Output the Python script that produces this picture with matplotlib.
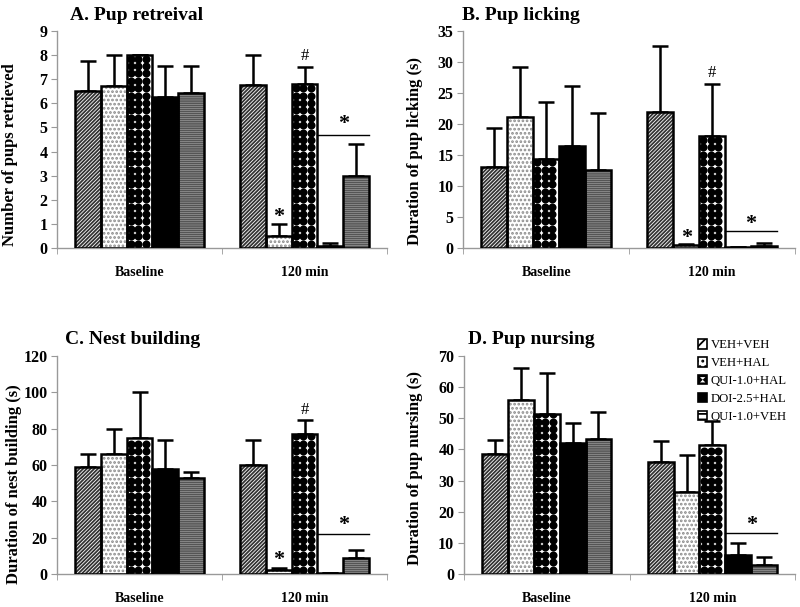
import numpy as np
import matplotlib.pyplot as plt
from matplotlib.patches import Patch

plt.rcParams["font.family"] = ["Liberation Serif", "DejaVu Serif"]
plt.rcParams["hatch.linewidth"] = 1.3

# --- DATA ---------------------------------------------------------------------
groups = ["Baseline", "120 min"]
treatments = ["VEH+VEH", "VEH+HAL", "QUI-1.0+HAL", "DOI-2.5+HAL", "QUI-1.0+VEH"]

# means per treatment: [baseline, 120 min]; err_top = mean + SEM
retrieval_mean = [[6.5, 6.75], [6.7, 0.5], [8.0, 6.8], [6.25, 0.1], [6.45, 3.0]]
retrieval_top = [[7.75, 8.0], [8.0, 1.0], [8.0, 7.5], [7.55, 0.2], [7.55, 4.3]]

licking_mean = [[13.0, 22.0], [21.1, 0.5], [14.4, 18.0], [16.4, 0.2], [12.6, 0.4]]
licking_top = [[19.3, 32.6], [29.2, 0.7], [23.6, 26.5], [26.1, 0.2], [21.7, 0.8]]

nest_mean = [[59, 60], [66, 2], [75, 77], [58, 0.5], [53, 9]]
nest_top = [[66, 74], [80, 3.5], [100, 85], [74, 0.5], [56, 13]]

nursing_mean = [[38.5, 36.0], [56.0, 26.3], [51.5, 41.3], [42.0, 6.0], [43.3, 3.0]]
nursing_top = [[43.0, 42.8], [66.0, 38.2], [64.5, 49.0], [48.5, 10.0], [52.0, 5.5]]

# --- STYLE --------------------------------------------------------------------
BAR_W = 0.156
fills = [
    dict(facecolor="white", hatch="/////////", hatchc="#333333"),
    dict(facecolor="white", hatch="....", hatchc="#8a8a8a"),
    dict(facecolor="white", hatch=None, hatchc=None),        # dotted grid drawn below
    dict(facecolor="black", hatch=None, hatchc=None),
    dict(facecolor="white", hatch="--------", hatchc="#555555"),
]
AXIS_GRAY = "#999999"


def dot_grid(ax, rect, step_px=7.4, size=5.8):
    # black dots in a square grid, clipped to the bar
    bb = ax.get_window_extent()
    x0, x1 = ax.get_xlim()
    y0, y1 = ax.get_ylim()
    dx = step_px * (x1 - x0) / bb.width
    dy = step_px * (y1 - y0) / bb.height
    bx, bw = rect.get_x(), rect.get_width()
    h = rect.get_height()
    xs = np.arange(bx + dx * 0.55, bx + bw, dx)
    ys = np.arange(dy * 0.6, h, dy)
    if len(xs) == 0 or len(ys) == 0:
        return
    gx, gy = np.meshgrid(xs, ys)
    sc = ax.scatter(gx.ravel(), gy.ravel(), s=size ** 2, c="black", marker="o",
                    linewidths=0, zorder=2.5)
    sc.set_clip_path(rect)


def panel(ax, means, tops, ymax, ystep):
    ax.set_xlim(-0.5, 1.5)
    ax.set_ylim(0, ymax)
    x = np.arange(len(groups))
    for i, (m, t) in enumerate(zip(means, tops)):
        pos = x + (i - 2) * BAR_W
        m = np.array(m, dtype=float)
        err = np.array(t, dtype=float) - m
        st = fills[i]
        if st["hatch"]:
            ax.bar(pos, m, BAR_W, color=st["facecolor"], edgecolor=st["hatchc"],
                   hatch=st["hatch"], linewidth=0, zorder=2)
        else:
            ax.bar(pos, m, BAR_W, color=st["facecolor"], linewidth=0, zorder=2)
        outline = ax.bar(pos, m, BAR_W, fill=False, edgecolor="black",
                         linewidth=1.8, zorder=3)
        if i == 2:
            for r in outline:
                dot_grid(ax, r)
        ax.errorbar(pos, m, yerr=[np.zeros_like(err), err], fmt="none",
                    ecolor="black", elinewidth=1.8, capsize=5.5, capthick=1.8,
                    zorder=1.5)
    for s in ["top", "right"]:
        ax.spines[s].set_visible(False)
    for s in ["left", "bottom"]:
        ax.spines[s].set_color(AXIS_GRAY)
        ax.spines[s].set_linewidth(1.0)
    ax.set_yticks(np.arange(0, ymax + ystep / 2, ystep))
    ax.tick_params(axis="y", direction="out", length=4, color=AXIS_GRAY,
                   labelsize=11.5, pad=3)
    for lab in ax.get_yticklabels():
        lab.set_fontweight("bold")
    ax.set_xticks(x)
    ax.set_xticklabels(groups, fontsize=10, fontweight="bold")
    ax.tick_params(axis="x", length=0, pad=13)
    ax.set_xticks([-0.5, 0.5, 1.5], minor=True)
    ax.tick_params(axis="x", which="minor", direction="out", length=4,
                   color=AXIS_GRAY)


def star_line(ax, y_line, y_star):
    left = 1 + (3 - 2) * BAR_W - BAR_W / 2
    right = 1 + (4 - 2) * BAR_W + BAR_W / 2
    ax.plot([left, right], [y_line, y_line], color="black", lw=1.0, zorder=4)
    ax.text((left + right) / 2, y_star, "*", ha="center", va="center",
            fontsize=16, fontweight="bold")


def mark(ax, i, y, s, size=16, weight="bold"):
    ax.text(1 + (i - 2) * BAR_W, y, s, ha="center", va="center",
            fontsize=size, fontweight=weight)


fig = plt.figure(figsize=(8, 6.07), dpi=100)
axA = fig.add_axes([0.0713, 0.5914, 0.4125, 0.3575])
axB = fig.add_axes([0.579, 0.5914, 0.415, 0.3575])
axC = fig.add_axes([0.0713, 0.0544, 0.4125, 0.3591])
axD = fig.add_axes([0.58, 0.0544, 0.414, 0.3591])

panel(axA, retrieval_mean, retrieval_top, 9, 1)
panel(axB, licking_mean, licking_top, 35, 5)
panel(axC, nest_mean, nest_top, 120, 20)
panel(axD, nursing_mean, nursing_top, 70, 10)

# annotations
mark(axA, 1, 1.3, "*")
mark(axA, 2, 7.95, "#", size=12, weight="normal")
star_line(axA, 4.7, 5.15)

mark(axB, 1, 1.6, "*")
mark(axB, 2, 28.3, "#", size=12, weight="normal")
star_line(axB, 2.7, 3.9)

mark(axC, 1, 7.5, "*")
mark(axC, 2, 90, "#", size=12, weight="normal")
star_line(axC, 22, 27)

star_line(axD, 13, 15.8)

# titles and y labels
fig.text(0.087, 0.975, "A. Pup retreival", fontsize=14, fontweight="bold", va="center")
fig.text(0.578, 0.975, "B. Pup licking", fontsize=14, fontweight="bold", va="center")
fig.text(0.081, 0.44, "C. Nest building", fontsize=14, fontweight="bold", va="center")
fig.text(0.585, 0.44, "D. Pup nursing", fontsize=14, fontweight="bold", va="center")

ylabs = [("Number of pups retrieved", 0.013, 1 - 155 / 607),
         ("Duration of pup licking (s)", 0.519, 1 - 151 / 607),
         ("Duration of nest building (s)", 0.017, 1 - 484 / 607),
         ("Duration of pup nursing (s)", 0.519, 1 - 468 / 607)]
for txt, xx, yy in ylabs:
    fig.text(xx, yy, txt, rotation=90, ha="center", va="center",
             fontsize=12, fontweight="bold")

# legend
handles = []
for i, name in enumerate(treatments):
    st = fills[i]
    if i == 2:
        h = Patch(facecolor="black", edgecolor="black", linewidth=1.2)
    elif st["hatch"]:
        h = Patch(facecolor=st["facecolor"], edgecolor="black",
                  hatch=st["hatch"][:3], linewidth=1.2)
    else:
        h = Patch(facecolor=st["facecolor"], edgecolor="black", linewidth=1.2)
    handles.append(h)
leg = axD.legend(handles, treatments, loc="upper right", bbox_to_anchor=(0.99, 1.1),
                 frameon=False, fontsize=9.2, handlelength=0.75, handleheight=0.75,
                 handletextpad=0.25, labelspacing=0.45, borderaxespad=0)

# white hourglass on the QUI-1.0+HAL swatch
sw = leg.get_patches()[2]
fig.canvas.draw()
bb = sw.get_window_extent()
cx, cy = (bb.x0 + bb.x1) / 2, (bb.y0 + bb.y1) / 2
hw = bb.width * 0.28
inv = fig.transFigure.inverted()
pts = inv.transform([(cx - hw, cy + hw), (cx + hw, cy + hw),
                     (cx - hw, cy - hw), (cx + hw, cy - hw)])
fig.patches.append(plt.Polygon(pts[[0, 1, 2, 3]], closed=True, facecolor="white",
                               edgecolor="none", transform=fig.transFigure,
                               figure=fig, zorder=10))

plt.savefig("out.png", dpi=100)
